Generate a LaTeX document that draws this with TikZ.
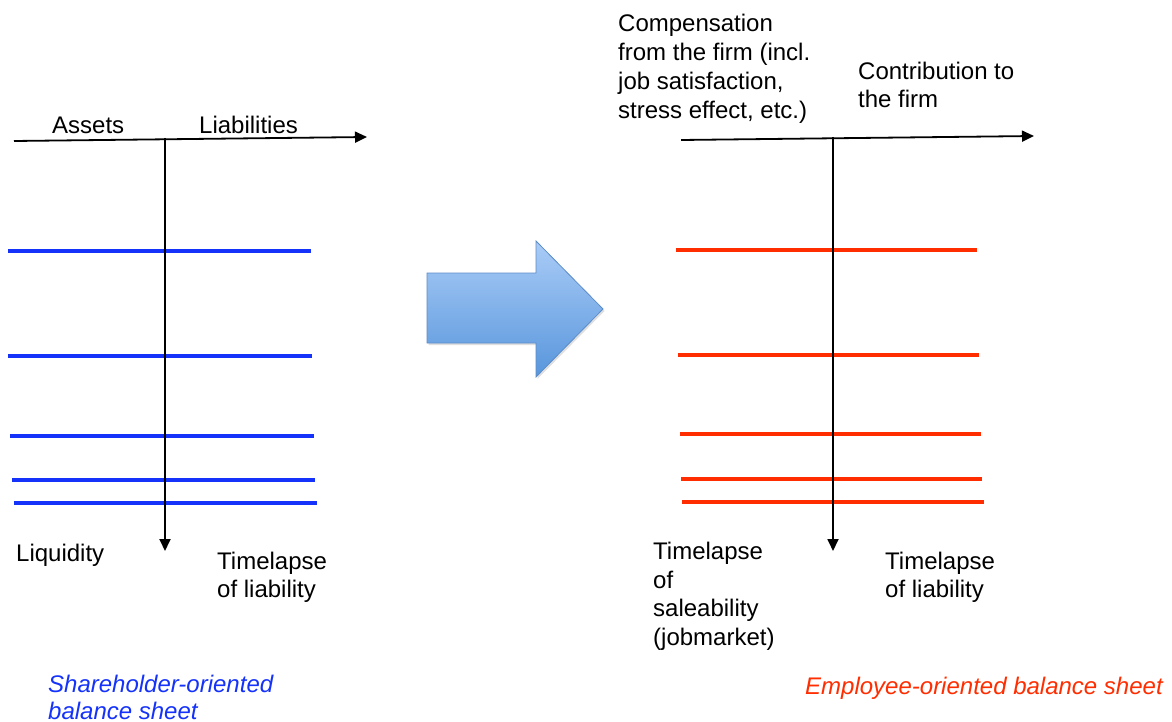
\documentclass[tikz,border=0pt]{standalone}
\usepackage{fontspec}
\setmainfont{Liberation Sans}
\usetikzlibrary{arrows.meta,shadows}
\definecolor{sbblue}{RGB}{20,50,250}
\definecolor{eored}{RGB}{255,45,0}
\definecolor{arrowtop}{RGB}{170,204,247}
\definecolor{arrowbot}{RGB}{88,150,220}
\definecolor{arrowedge}{RGB}{92,140,200}
\begin{document}
\begin{tikzpicture}[x=1pt,y=-1pt,
  lbl/.style={inner sep=0pt,anchor=base west,align=left,font=\fontsize{24}{28.5}\selectfont},
  axis/.style={line width=1.8pt,-{Triangle[length=12pt,width=11pt]}},
  blueline/.style={sbblue,line width=3.8pt},
  redline/.style={eored,line width=3.8pt},
  bigarrow/.style={draw=arrowedge,line width=0.8pt,top color=arrowtop,bottom color=arrowbot,
     drop shadow={opacity=0.25,shadow xshift=1.5pt,shadow yshift=-2pt}}]
\useasboundingbox (0,0) rectangle (1172,722);
% ---- left balance sheet ----
\coordinate (LHs) at (14,141);
\coordinate (LHe) at (367,137);
\coordinate (LVs) at (165,138);
\coordinate (LVe) at (165,551);
\foreach \y/\a/\b in {251/8/311, 356/8/312, 436/10/314, 480/12/315, 503/14/317}
  \draw[blueline] (\a,\y) -- (\b,\y);
\draw[axis] (LHs) -- (LHe);
\draw[axis] (LVs) -- (LVe);
% (multi-line nodes are placed by the baseline of their last line)
\node[lbl] (assets) at (52,134) {Assets};
\node[lbl] (liab) at (199,134) {Liabilities};
\node[lbl] (liq) at (16,561) {Liquidity};
\node[lbl,font=\fontsize{24}{27.5}\selectfont] (tlL) at (217,597) {Timelapse\\of liability};
\node[lbl,font=\fontsize{24}{27}\selectfont\itshape,text=sbblue] (shb) at (48,719) {Shareholder-oriented\\balance sheet};
% ---- big arrow ----
\path[bigarrow] (427,273) -- (536,273) -- (536,241) -- (603,309) -- (536,377) -- (536,343) -- (427,343) -- cycle;
% ---- right balance sheet ----
\coordinate (RHs) at (681,140);
\coordinate (RHe) at (1034,136);
\coordinate (RVs) at (833,137);
\coordinate (RVe) at (833,551);
\foreach \y/\a/\b in {250/676/977, 355/678/979, 434/680/981, 479/681/982, 502/682/984}
  \draw[redline] (\a,\y) -- (\b,\y);
\draw[axis] (RHs) -- (RHe);
\draw[axis] (RVs) -- (RVe);
\node[lbl,font=\fontsize{24}{29}\selectfont] (comp) at (618,119) {Compensation\\from the firm (incl.\\job satisfaction,\\stress effect, etc.)};
\node[lbl] (contr) at (858,108) {Contribution to\\the firm};
\node[lbl] (tlS) at (653,645) {Timelapse\\of\\saleability\\(jobmarket)};
\node[lbl,font=\fontsize{24}{27.5}\selectfont] (tlR) at (885,597) {Timelapse\\of liability};
\node[lbl,font=\fontsize{24}{27}\selectfont\itshape,text=eored] (eob) at (805,694) {Employee-oriented balance sheet};
\end{tikzpicture}
\end{document}
